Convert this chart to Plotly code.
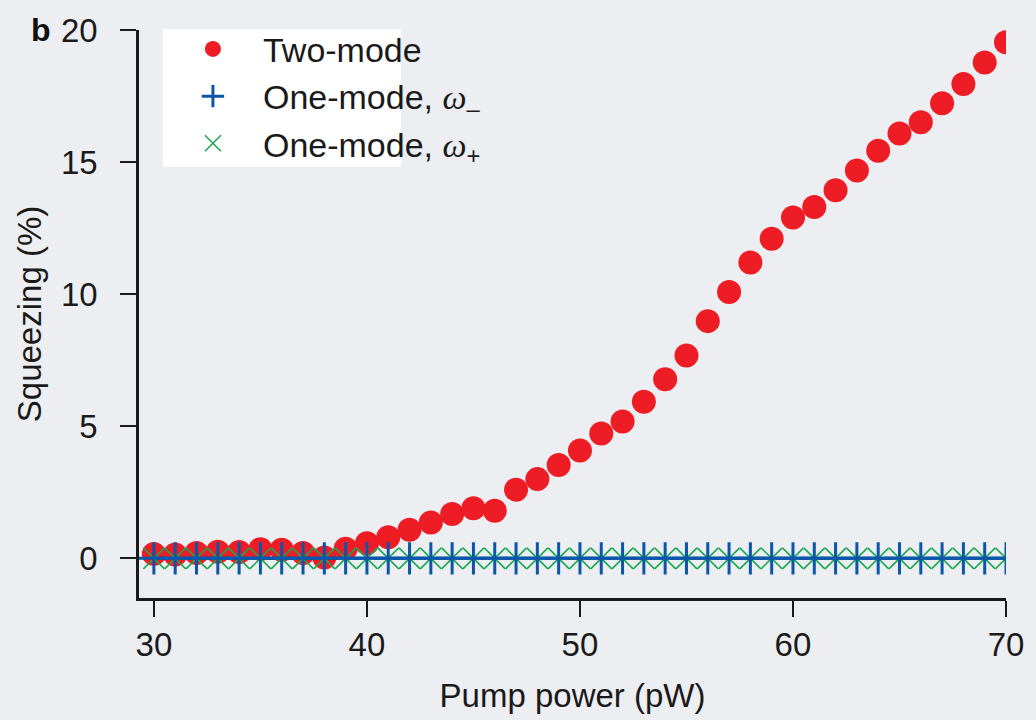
import plotly.graph_objects as go

pump_power = list(range(30, 71))
two_mode = [0.17, 0.15, 0.2, 0.25, 0.24, 0.35, 0.33, 0.2, 0.03, 0.36,
            0.57, 0.8, 1.08, 1.36, 1.68, 1.9, 1.8, 2.6, 3.0, 3.53,
            4.08, 4.73, 5.18, 5.93, 6.78, 7.68, 8.98, 10.08, 11.2, 12.1,
            12.9, 13.3, 13.93, 14.68, 15.43, 16.08, 16.51, 17.23, 17.96, 18.77,
            19.54]
one_mode_minus = [0.0] * len(pump_power)
one_mode_plus = [0.0] * len(pump_power)

x_ticks = [30, 40, 50, 60, 70]
y_ticks = [0, 5, 10, 15, 20]

FONT = "Liberation Sans, Arial, Helvetica, sans-serif"
FS = 33
BG = "#eceef1"
omega = "<span style=\"font-family:'Liberation Serif'\"><i>ω</i></span>"

fig = go.Figure()
fig.add_trace(go.Scatter(
    x=pump_power, y=two_mode, mode="markers", name="Two-mode",
    legendgroup="a", legendrank=1,
    marker=dict(symbol="circle", size=24, color="#ee1c25", line=dict(width=0)),
))
fig.add_trace(go.Scatter(
    x=pump_power, y=one_mode_plus, mode="markers",
    name="One-mode, " + omega + "<sub>+</sub>", legendgroup="c", legendrank=3,
    marker=dict(symbol="x-thin", size=21, color="#17a84f",
                line=dict(width=1.5, color="#17a84f")),
))
fig.add_trace(go.Scatter(
    x=pump_power, y=one_mode_minus, mode="lines+markers",
    name="One-mode, " + omega + "<sub>–</sub>", legendgroup="b",
    showlegend=False,
    line=dict(color="#0a56a8", width=3),
    marker=dict(symbol="cross-thin", size=23, color="#0a56a8",
                line=dict(width=3, color="#0a56a8")),
))
fig.add_trace(go.Scatter(
    x=[None], y=[None], mode="markers",
    name="One-mode, " + omega + "<sub>–</sub>", legendgroup="b", legendrank=2,
    marker=dict(symbol="cross-thin", size=23, color="#0a56a8",
                line=dict(width=3, color="#0a56a8")),
))

fig.update_layout(
    width=1036, height=720,
    margin=dict(l=139, r=27, t=25, b=122),
    paper_bgcolor=BG, plot_bgcolor=BG,
    font=dict(family=FONT, size=FS, color="#1a1a1a"),
    showlegend=True,
    legend=dict(
        x=0.0276, y=1.017, xanchor="left", yanchor="top",
        bgcolor="rgba(0,0,0,0)", borderwidth=0,
        font=dict(family=FONT, size=34, color="#1a1a1a"),
        itemsizing="trace", itemwidth=90, tracegroupgap=0,
    ),
    xaxis=dict(
        range=[29.3, 70.0], tickvals=x_ticks, ticktext=[str(v) for v in x_ticks],
        showgrid=False, zeroline=False, showline=True, linecolor="#1a1a1a",
        linewidth=2.5, ticks="outside", ticklen=16, tickwidth=2,
        tickcolor="#1a1a1a",
        title=dict(text="Pump power (pW)", standoff=22,
                   font=dict(family=FONT, size=FS)),
    ),
    yaxis=dict(
        range=[-1.5, 20.0], tickvals=y_ticks, ticktext=[str(v) for v in y_ticks],
        showgrid=False, zeroline=False, showline=True, linecolor="#1a1a1a",
        linewidth=2.5, ticks="outside", ticklen=16, tickwidth=2,
        tickcolor="#1a1a1a", ticklabelstandoff=16,
        title=dict(text="Squeezing (%)", standoff=10,
                   font=dict(family=FONT, size=FS)),
    ),
    shapes=[dict(type="rect", xref="paper", yref="paper", layer="below",
                 x0=(163 - 139) / 870, x1=(402 - 139) / 870,
                 y0=(598 - 163) / 573, y1=(598 - 24) / 573,
                 fillcolor="white", line=dict(width=0))],
)

fig.add_annotation(
    text="<b>b</b>", xref="paper", yref="paper", x=-0.127, y=1.0,
    xanchor="left", yanchor="middle", showarrow=False,
    font=dict(family=FONT, size=32, color="#111111"),
)

fig.write_html("out.html", config={"displayModeBar": False},
               post_script="document.body.style.margin='0';")
